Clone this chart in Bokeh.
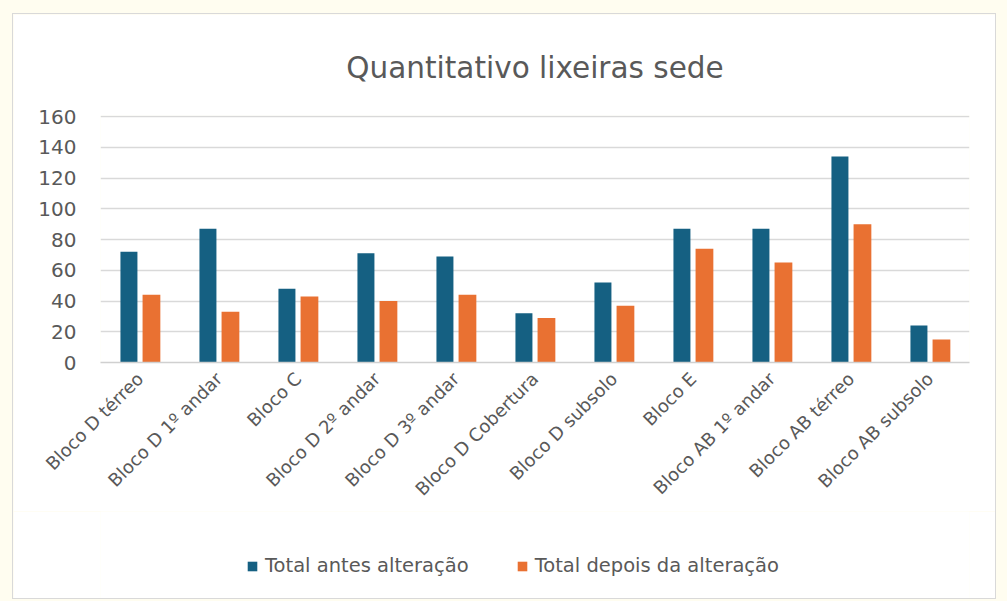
from bokeh.plotting import figure
from bokeh.models import FactorRange, Range1d, Legend, LegendItem, ColumnDataSource
from bokeh.layouts import column
from bokeh.transform import dodge
from bokeh.embed import file_html
from bokeh.resources import INLINE
import math

categories = ["Bloco D térreo", "Bloco D 1º andar", "Bloco C", "Bloco D 2º andar",
              "Bloco D 3º andar", "Bloco D Cobertura", "Bloco D subsolo", "Bloco E",
              "Bloco AB 1º andar", "Bloco AB térreo", "Bloco AB subsolo"]
antes = [72, 87, 48, 71, 69, 32, 52, 87, 87, 134, 24]
depois = [44, 33, 43, 40, 44, 29, 37, 74, 65, 90, 15]
series_names = ["Total antes alteração", "Total depois da alteração"]
y_ticks = [0, 20, 40, 60, 80, 100, 120, 140, 160]

BLUE = "#156082"
ORANGE = "#E97132"
TXT = "#595959"
FONT = "DejaVu Sans"

src = ColumnDataSource(dict(cat=categories, antes=antes, depois=depois))

p = figure(x_range=FactorRange(*categories), y_range=Range1d(0, 160.7),
           width=984, height=498, output_backend="svg", toolbar_location=None,
           title="Quantitativo lixeiras sede",
           min_border_left=87, min_border_right=28, min_border_top=101, min_border_bottom=150)
p.styles = {"border": "1px solid #d9d9d9", "border-bottom": "none"}
p.background_fill_color = "white"
p.border_fill_color = "white"
p.outline_line_color = None

p.title.align = "center"
p.title.text_font = FONT
p.title.text_font_style = "normal"
p.title.text_font_size = "29.5px"
p.title.text_color = TXT
p.title.standoff = 62

r1 = p.vbar(x=dodge("cat", -0.14, range=p.x_range), top="antes", width=0.215, source=src,
            fill_color=BLUE, line_color=None)
r2 = p.vbar(x=dodge("cat", 0.145, range=p.x_range), top="depois", width=0.225, source=src,
            fill_color=ORANGE, line_color=None)

p.x_range.range_padding = 0
p.x_range.factor_padding = 0

p.yaxis.ticker = y_ticks
p.yaxis.axis_line_color = None
p.yaxis.major_tick_line_color = None
p.yaxis.minor_tick_line_color = None
p.yaxis.major_tick_out = 0
p.yaxis.major_label_standoff = 24
p.yaxis.major_label_text_font = FONT
p.yaxis.major_label_text_font_size = "20px"
p.yaxis.major_label_text_color = TXT

p.xaxis.axis_line_color = "#d0d0d0"
p.xaxis.axis_line_width = 1.5
p.xaxis.major_tick_line_color = None
p.xaxis.minor_tick_line_color = None
p.xaxis.major_tick_out = 0
p.xaxis.major_label_orientation = math.pi / 4
p.xaxis.major_label_standoff = 13
p.xaxis.major_label_text_font = FONT
p.xaxis.major_label_text_font_size = "18px"
p.xaxis.major_label_text_color = TXT

p.xgrid.grid_line_color = None
p.ygrid.grid_line_color = "#d9d9d9"
p.ygrid.grid_line_width = 1.5

# legend strip (second figure directly below, same card)
p2 = figure(width=984, height=88, output_backend="svg", toolbar_location=None,
            x_range=Range1d(0, 1), y_range=Range1d(0, 1),
            x_axis_type=None, y_axis_type=None,
            min_border_left=0, min_border_right=0, min_border_top=0, min_border_bottom=0)
p2.styles = {"border": "1px solid #d9d9d9", "border-top": "none"}
p2.background_fill_color = "white"
p2.border_fill_color = "white"
p2.outline_line_color = None
p2.grid.visible = False
offscreen = ColumnDataSource(dict(x=[-10], top=[-10]))
l1 = p2.vbar(x="x", top="top", width=0.1, source=offscreen, fill_color=BLUE, line_color=None)
l2 = p2.vbar(x="x", top="top", width=0.1, source=offscreen, fill_color=ORANGE, line_color=None)

legend = Legend(items=[LegendItem(label=series_names[0], renderers=[l1]),
                       LegendItem(label=series_names[1], renderers=[l2])],
                orientation="horizontal", location=(146, 22))
legend.border_line_color = None
legend.background_fill_alpha = 0
legend.padding = 5
legend.margin = 0
legend.label_text_font = FONT
legend.label_text_font_size = "19.5px"
legend.label_text_color = TXT
legend.glyph_width = 12
legend.glyph_height = 12
legend.spacing = 47
legend.label_standoff = 7
p2.add_layout(legend, "center")

layout = column(p, p2, spacing=0)

html = file_html(layout, INLINE)
html = html.replace("<head>", "<head><style>html,body{background:#fffdf0;} body{margin:0 !important; padding:13px 0 0 12px !important;}</style>", 1)
open("out.html", "w").write(html)
